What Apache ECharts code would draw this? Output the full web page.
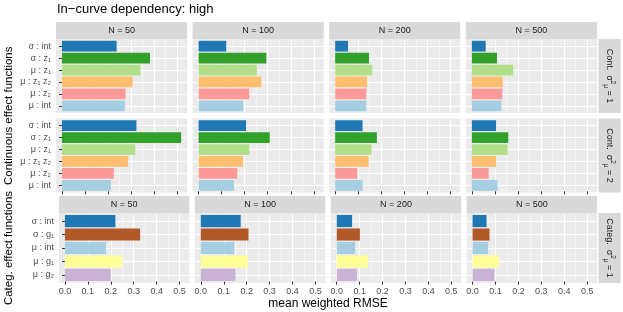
<!DOCTYPE html>
<html><head><meta charset="utf-8">
<script src="https://cdn.jsdelivr.net/npm/echarts@6/dist/echarts.min.js"></script>
<style>html,body{margin:0;padding:0;background:#fff}#c{width:623px;height:312px}</style>
</head><body><div id="c"></div>
<script>
// ---------- data ----------
const chartTitle = 'In\u2212curve dependency: high';
const sampleSizes = ['N = 50', 'N = 100', 'N = 200', 'N = 500'];
const contLabels = ['σ : int', 'σ : z₁', 'μ : z₁', 'μ : z₁ z₂', 'μ : z₂', 'μ : int'];
const contColors = ['#1F78B4', '#33A02C', '#B2DF8A', '#FDBF6F', '#FB9A99', '#A6CEE3'];
const categLabels = ['σ : int', 'σ : g₁', 'μ : int', 'μ : g₁', 'μ : g₂'];
const categColors = ['#1F78B4', '#B15928', '#A6CEE3', '#FFFF99', '#CAB2D6'];
const xTicks = [0, 0.1, 0.2, 0.3, 0.4, 0.5];

// Continuous, sigma^2_mu = 1
const cont1_N50  = [0.237, 0.382, 0.341, 0.306, 0.276, 0.273];
const cont1_N100 = [0.120, 0.294, 0.253, 0.272, 0.220, 0.194];
const cont1_N200 = [0.056, 0.147, 0.161, 0.139, 0.135, 0.135];
const cont1_N500 = [0.060, 0.109, 0.180, 0.134, 0.132, 0.128];
// Continuous, sigma^2_mu = 2
const cont2_N50  = [0.323, 0.517, 0.318, 0.287, 0.225, 0.212];
const cont2_N100 = [0.206, 0.309, 0.220, 0.193, 0.168, 0.154];
const cont2_N200 = [0.119, 0.181, 0.158, 0.145, 0.096, 0.119];
const cont2_N500 = [0.105, 0.158, 0.155, 0.105, 0.073, 0.112];
// Categorical, sigma^2_mu = 1
const categ1_N50  = [0.220, 0.328, 0.179, 0.250, 0.200];
const categ1_N100 = [0.174, 0.208, 0.146, 0.205, 0.151];
const categ1_N200 = [0.067, 0.101, 0.080, 0.136, 0.088];
const categ1_N500 = [0.061, 0.074, 0.068, 0.116, 0.095];

const rowStripTexts = ['Cont.', 'Cont.', 'Categ.'];
const rowStripValues = ['1', '2', '1'];
const yTitles = ['Continuous effect functions', 'Categ. effect functions'];
const xTitle = 'mean weighted RMSE';

// ---------- layout ----------
const FONT = '"Liberation Sans", Arial, "DejaVu Sans", sans-serif';
const rows = [
  { labels: contLabels, colors: contColors, data: [cont1_N50, cont1_N100, cont1_N200, cont1_N500],
    top: 39, h: 74, lefts: [56, 192.6, 329.2, 465.9], w: 131.1, stripTop: true, ticks: false, xlabels: false },
  { labels: contLabels, colors: contColors, data: [cont2_N50, cont2_N100, cont2_N200, cont2_N500],
    top: 118.5, h: 74, lefts: [56, 192.6, 329.2, 465.9], w: 131.1, stripTop: false, ticks: true, xlabels: false },
  { labels: categLabels, colors: categColors, data: [categ1_N50, categ1_N100, categ1_N200, categ1_N500],
    top: 213, h: 70, lefts: [59, 194.9, 330.8, 466.6], w: 130.4, stripTop: true, ticks: true, xlabels: true }
];

let dmax = 0;
rows.forEach(r => r.data.forEach(a => a.forEach(v => { if (v > dmax) dmax = v; })));
const xmin = -0.05 * dmax, xmax = 1.05 * dmax;

const grids = [], xAxes = [], yAxes = [], series = [], graphics = [];
const STRIP_H = 17;

rows.forEach((r, ri) => {
  const n = r.labels.length;
  const u = r.h / (n + 0.2);
  r.lefts.forEach((L, ci) => {
    const idx = grids.length;
    graphics.push({ type: 'rect', z: -10, silent: true,
      shape: { x: L, y: r.top, width: r.w, height: r.h }, style: { fill: '#EBEBEB' } });
    if (r.stripTop) {
      graphics.push({ type: 'rect', z: -10, silent: true,
        shape: { x: L, y: r.top - STRIP_H, width: r.w, height: STRIP_H }, style: { fill: '#D9D9D9' } });
      graphics.push({ type: 'text', z: 10, silent: true, x: L + r.w / 2, y: r.top - STRIP_H / 2 + 0.5,
        style: { text: sampleSizes[ci], font: '9px ' + FONT, fill: '#1A1A1A', align: 'center', verticalAlign: 'middle' } });
    }
    grids.push({ left: L, width: r.w, top: r.top + 0.1 * u, height: n * u, show: false });
    xAxes.push({
      type: 'value', gridIndex: idx, min: xmin, max: xmax, splitNumber: 5,
      axisLine: { show: false },
      axisTick: { show: r.ticks, length: 3, customValues: xTicks, lineStyle: { color: '#333333', width: 1 } },
      axisLabel: { show: r.xlabels, customValues: xTicks, margin: 5, fontSize: 9, fontFamily: FONT, color: '#4D4D4D',
        formatter: v => v.toFixed(1) },
      splitLine: { show: true, lineStyle: { color: '#FFFFFF', width: 1 } },
      minorTick: { show: false, splitNumber: 2 },
      minorSplitLine: { show: true, lineStyle: { color: '#FFFFFF', width: 0.5 } }
    });
    yAxes.push({
      type: 'category', gridIndex: idx, data: r.labels, inverse: true,
      axisLine: { show: false },
      axisTick: { show: ci === 0, alignWithLabel: true, interval: 0, length: 3, lineStyle: { color: '#333333' } },
      axisLabel: { show: ci === 0, interval: 0, margin: 5, fontSize: 9, fontFamily: FONT, color: '#4D4D4D' },
      splitLine: { show: true, alignWithLabel: true, interval: 0, lineStyle: { color: '#FFFFFF', width: 1 } }
    });
    series.push({
      type: 'bar', xAxisIndex: idx, yAxisIndex: idx, barWidth: '90%', silent: true,
      data: r.data[ci].map((v, i) => ({ value: v, itemStyle: { color: r.colors[i] } }))
    });
  });
  const rx = r.lefts[3] + r.w + 1.5;
  graphics.push({ type: 'rect', z: -10, silent: true,
    shape: { x: rx, y: r.top, width: 22, height: r.h }, style: { fill: '#D9D9D9' } });
  graphics.push({ type: 'text', z: 10, silent: true, x: rx + 11, y: r.top + r.h / 2, rotation: -Math.PI / 2,
    style: {
      text: '{a|' + rowStripTexts[ri] + '  σ}{sup|2}{sub|μ}{a| = ' + rowStripValues[ri] + '}',
      align: 'center', verticalAlign: 'middle',
      rich: {
        a: { font: '9px ' + FONT, fill: '#1A1A1A', lineHeight: 14 },
        sup: { font: '6.5px ' + FONT, fill: '#1A1A1A', lineHeight: 14, verticalAlign: 'top' },
        sub: { font: '6.5px ' + FONT, fill: '#1A1A1A', lineHeight: 14, verticalAlign: 'bottom' }
      }
    } });
});

graphics.push({ type: 'text', silent: true, x: 57, y: 9,
  style: { text: chartTitle, font: '13px ' + FONT, fill: '#000', align: 'left', verticalAlign: 'middle' } });
graphics.push({ type: 'text', silent: true, x: 9, y: (rows[0].top + rows[1].top + rows[1].h) / 2, rotation: Math.PI / 2,
  style: { text: yTitles[0], font: '11.5px ' + FONT, fill: '#000', align: 'center', verticalAlign: 'middle' } });
graphics.push({ type: 'text', silent: true, x: 9, y: rows[2].top + rows[2].h / 2, rotation: Math.PI / 2,
  style: { text: yTitles[1], font: '11.5px ' + FONT, fill: '#000', align: 'center', verticalAlign: 'middle' } });
graphics.push({ type: 'text', silent: true, x: (rows[2].lefts[0] + rows[2].lefts[3] + rows[2].w) / 2, y: 304,
  style: { text: xTitle, font: '12px ' + FONT, fill: '#000', align: 'center', verticalAlign: 'middle' } });

const chart = echarts.init(document.getElementById('c'), null, { renderer: 'canvas' });
chart.setOption({
  animation: false,
  backgroundColor: '#FFFFFF',
  grid: grids, xAxis: xAxes, yAxis: yAxes, series: series,
  graphic: { elements: graphics }
});
</script></body></html>
